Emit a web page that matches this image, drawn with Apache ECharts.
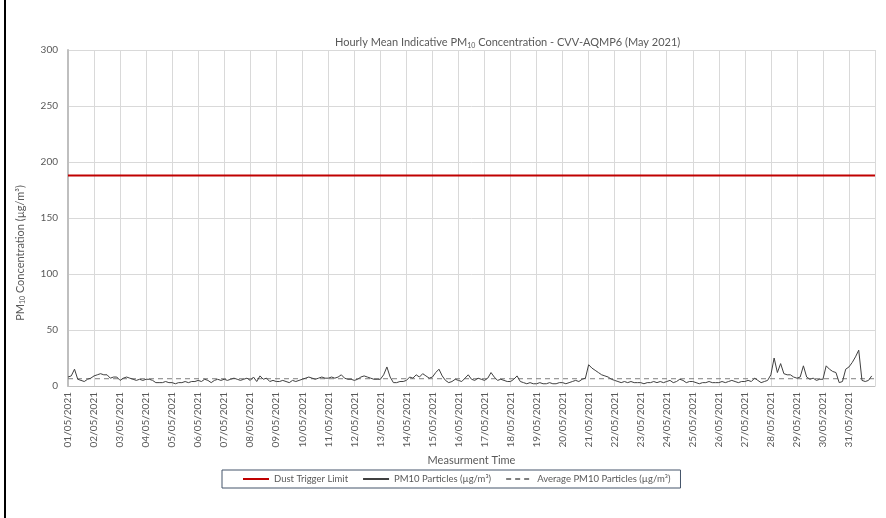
<!DOCTYPE html>
<html>
<head>
<meta charset="utf-8">
<script src="https://cdn.jsdelivr.net/npm/echarts@6/dist/echarts.min.js"></script>
<style>
  html, body { margin: 0; padding: 0; background: #fff; }
  #chart { width: 886px; height: 518px; }
</style>
</head>
<body>
<div id="chart"></div>
<script>
// day labels on the x axis (one per day)
const dayLabels = [
  '01/05/2021', '02/05/2021', '03/05/2021', '04/05/2021', '05/05/2021', '06/05/2021',
  '07/05/2021', '08/05/2021', '09/05/2021', '10/05/2021', '11/05/2021', '12/05/2021',
  '13/05/2021', '14/05/2021', '15/05/2021', '16/05/2021', '17/05/2021', '18/05/2021',
  '19/05/2021', '20/05/2021', '21/05/2021', '22/05/2021', '23/05/2021', '24/05/2021',
  '25/05/2021', '26/05/2021', '27/05/2021', '28/05/2021', '29/05/2021', '30/05/2021',
  '31/05/2021'
]
const yTicks = [0, 50, 100, 150, 200, 250, 300]

// PM10 readings, every 3 hours (00, 03, 06 ... 21) for each day
const pm10 = [
  8, 9, 15, 6, 5, 4, 6, 7,        // 01
  9, 10, 11, 10, 10, 7, 8, 8,     // 02
  5, 7, 8, 7, 6, 5, 6, 5,         // 03
  6, 6, 5, 3, 3, 3, 4, 3,         // 04
  3, 2, 3, 3, 4, 3, 4, 4,         // 05
  5, 4, 6, 5, 3, 5, 6, 5,         // 06
  6, 5, 6, 7, 6, 5, 6, 7,         // 07
  5, 8, 4, 9, 6, 7, 4, 5,         // 08
  4, 4, 5, 4, 3, 5, 4, 5,         // 09
  6, 7, 8, 7, 6, 7, 8, 7,         // 10
  7, 8, 7, 8, 10, 7, 6, 6,        // 11
  5, 6, 8, 9, 8, 7, 6, 6,         // 12
  6, 10, 17, 8, 3, 3, 4, 4,       // 13
  5, 8, 7, 10, 8, 11, 9, 7,       // 14
  8, 12, 15, 9, 5, 3, 4, 6,       // 15
  5, 4, 7, 10, 6, 5, 7, 6,        // 16
  5, 7, 12, 8, 5, 6, 5, 4,        // 17
  4, 6, 9, 4, 3, 2, 3, 2,         // 18
  2, 3, 2, 2, 3, 2, 2, 3,         // 19
  3, 2, 3, 4, 5, 4, 6, 7,         // 20
  19, 16, 14, 12, 10, 9, 8, 6,    // 21
  5, 4, 3, 4, 3, 4, 3, 3,         // 22
  3, 2, 3, 3, 4, 3, 4, 3,         // 23
  4, 5, 3, 4, 6, 5, 3, 4,         // 24
  4, 3, 2, 3, 3, 4, 3, 3,         // 25
  3, 4, 3, 4, 5, 4, 3, 4,         // 26
  4, 5, 4, 7, 5, 3, 4, 5,         // 27
  10, 25, 12, 20, 11, 10, 10, 8,  // 28
  7, 8, 18, 8, 6, 7, 5, 6,        // 29
  6, 18, 15, 13, 12, 3, 4, 15,    // 30
  17, 21, 26, 32, 5, 4, 5, 9      // 31
]
const stepHours = 3
const dustLimit = 188
const avgPM10 = 6.5
const totalHours = 744

const font = 'Lato, "Open Sans", sans-serif'
const grey = '#595959'

const chart = echarts.init(document.getElementById('chart'))

const option = {
  backgroundColor: '#fff',
  animation: false,
  textStyle: { fontFamily: font },
  title: {
    text: 'Hourly Mean Indicative PM{sub|10} Concentration - CVV-AQMP6 (May 2021)',
    left: 330,
    top: 31,
    textStyle: {
      fontFamily: font,
      fontSize: 11,
      fontWeight: 'normal',
      color: grey,
      rich: {
        sub: { fontSize: 7, color: grey, verticalAlign: 'bottom', padding: [6, 0, 0, 0] }
      }
    }
  },
  grid: { left: 68, right: 11, top: 50, bottom: 132 },
  legend: {
    left: 222,
    top: 470,
    padding: [4, 10, 4, 20],
    itemGap: 14,
    itemWidth: 26,
    itemHeight: 10,
    borderColor: '#44546a',
    borderWidth: 1,
    itemStyle: { opacity: 0 },
    textStyle: { fontFamily: font, fontSize: 9.5, color: grey },
    data: ['Dust Trigger Limit', 'PM10 Particles (µg/m³)', 'Average PM10 Particles (µg/m³)']
  },
  xAxis: {
    type: 'value',
    min: 0,
    max: totalHours,
    interval: 24,
    name: 'Measurment Time',
    nameLocation: 'middle',
    nameGap: 62,
    nameTextStyle: { fontFamily: font, fontSize: 11, color: grey },
    axisLine: { lineStyle: { color: '#bfbfbf', width: 1 } },
    axisTick: { show: false },
    splitLine: { show: true, lineStyle: { color: '#d9d9d9' } },
    axisLabel: {
      rotate: 90,
      fontSize: 10,
      color: grey,
      margin: 6,
      showMaxLabel: false,
      formatter: v => dayLabels[Math.round(v / 24)] || ''
    }
  },
  yAxis: {
    type: 'value',
    min: yTicks[0],
    max: yTicks[yTicks.length - 1],
    interval: 50,
    name: 'PM{sub|10} Concentration (µg/m³)',
    nameLocation: 'middle',
    nameGap: 42,
    nameTextStyle: {
      fontFamily: font,
      fontSize: 11,
      color: grey,
      padding: [0, 70, 0, 0],
      rich: { sub: { fontSize: 7, color: grey, padding: [5, 0, 0, 0] } }
    },
    axisLine: { show: true, lineStyle: { color: '#bfbfbf', width: 2 } },
    axisTick: { show: false },
    splitLine: { lineStyle: { color: '#d9d9d9' } },
    axisLabel: { fontSize: 10, color: grey, margin: 10 }
  },
  series: [
    {
      name: 'Dust Trigger Limit',
      type: 'line',
      symbol: 'none',
      silent: true,
      lineStyle: { color: '#c00000', width: 2 },
      itemStyle: { color: '#c00000' },
      data: [[0, dustLimit], [totalHours, dustLimit]],
      z: 3
    },
    {
      name: 'PM10 Particles (µg/m³)',
      type: 'line',
      symbol: 'none',
      lineStyle: { color: '#404040', width: 1 },
      itemStyle: { color: '#404040' },
      data: pm10.map((v, i) => [i * stepHours, v]),
      z: 4
    },
    {
      name: 'Average PM10 Particles (µg/m³)',
      type: 'line',
      symbol: 'none',
      lineStyle: { color: '#7f7f7f', width: 1, type: [5, 4] },
      itemStyle: { color: '#7f7f7f' },
      data: [[0, avgPM10], [totalHours, avgPM10]],
      z: 2
    }
  ],
  graphic: [
    {
      type: 'rect',
      left: 4,
      top: 0,
      shape: { width: 2, height: 518 },
      style: { fill: '#000' }
    }
  ]
}

chart.setOption(option)
</script>
</body>
</html>
